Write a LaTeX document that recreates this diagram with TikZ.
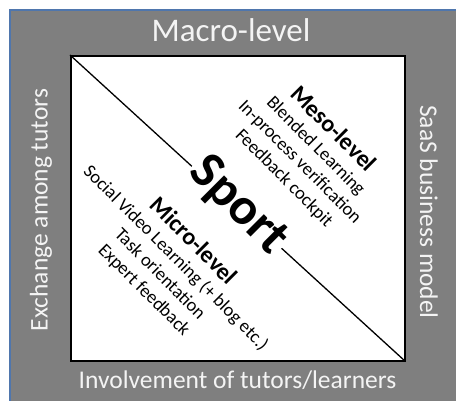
\documentclass[tikz,border=0pt]{standalone}
\usepackage{fontspec}
\setmainfont{Carlito}
\definecolor{panelgrey}{HTML}{7F7F7F}
\definecolor{panelblue}{HTML}{4F76AD}
\definecolor{labelwhite}{HTML}{F4F4F4}
\begin{document}
\begin{tikzpicture}[x=1pt,y=-1pt,
  outerlabel/.style={text=labelwhite,font=\fontsize{25.5}{30}\selectfont,inner sep=0pt},
  levelblock/.style={align=center,rotate=-45,inner sep=0pt,font=\fontsize{18.5}{22.5}\selectfont},
  sportlabel/.style={rotate=-45,fill=white,inner sep=2pt,font=\fontsize{52}{56}\selectfont\bfseries}]
  \useasboundingbox (0,0) rectangle (456,401);
  \clip (0,0) rectangle (456,401);
  % grey frame
  \fill[panelgrey,draw=panelblue,line width=1.2pt] (10,10) rectangle (470,420);
  % white square with diagonal
  \node[draw=black,fill=white,line width=1.6pt,minimum width=334pt,minimum height=305pt,inner sep=0pt,anchor=north west] (sq) at (70,55) {};
  \draw[line width=1.3pt] (sq.north west) -- (sq.south east);
  % outer labels
  \node[outerlabel,font=\fontsize{33}{36}\selectfont] (macro) at (231,30) {Macro-level};
  \node[outerlabel] (invol) at (237.5,380) {Involvement of tutors/learners};
  \node[outerlabel,rotate=90] (exch) at (41,210) {Exchange among tutors};
  \node[outerlabel,rotate=-90] (saas) at (429,212) {SaaS business model};
  % inner labels
  \node[sportlabel] (sport) at (238,206) {Sport};
  \node[levelblock] (meso) at (309,153) {{\fontsize{24}{24}\selectfont\bfseries Meso-level}\\Blended Learning\\In-process verification\\Feedback cockpit};
  \node[levelblock] (micro) at (169,265) {{\fontsize{24}{24}\selectfont\bfseries Micro-level}\\Social Video Learning (+ blog etc.)\\Task orientation\\Expert feedback};
\end{tikzpicture}
\end{document}
